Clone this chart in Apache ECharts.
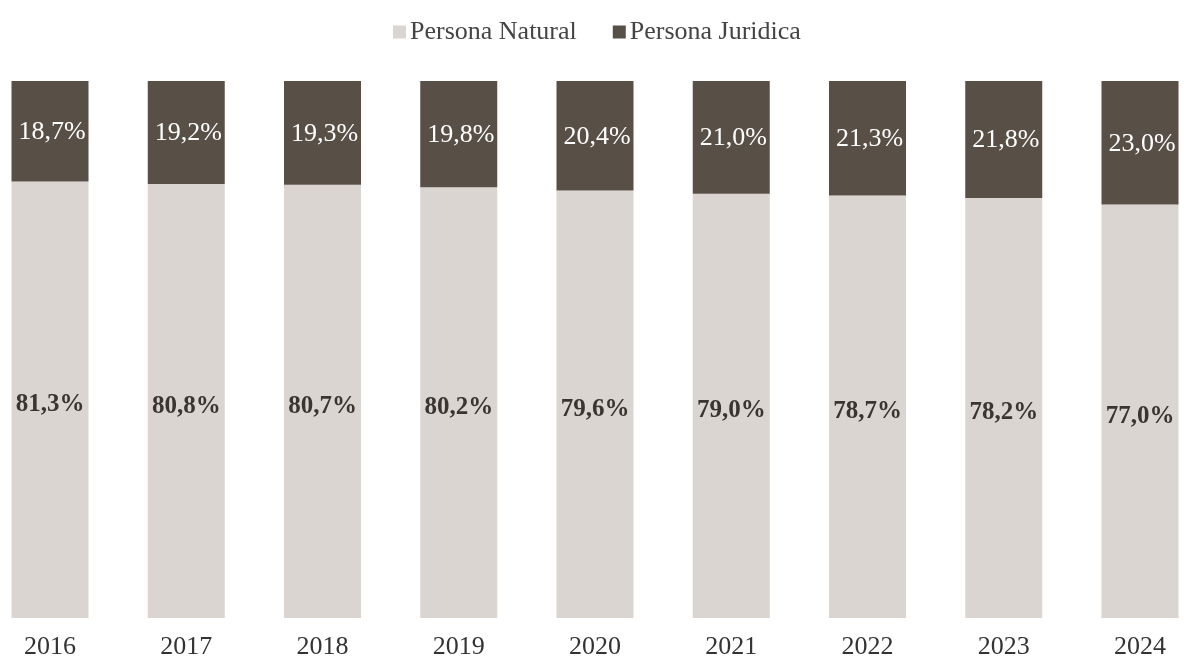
<!DOCTYPE html>
<html><head><meta charset="utf-8">
<script src="https://cdn.jsdelivr.net/npm/echarts@6/dist/echarts.min.js"></script>
<style>html,body{margin:0;padding:0;background:#fff}#c{width:1184px;height:664px}</style>
</head><body><div id="c"></div>
<script>
const years = ['2016','2017','2018','2019','2020','2021','2022','2023','2024'];
const natural = [81.3, 80.8, 80.7, 80.2, 79.6, 79.0, 78.7, 78.2, 77.0];
const juridica = [18.7, 19.2, 19.3, 19.8, 20.4, 21.0, 21.3, 21.8, 23.0];
const fmt = v => v.toFixed(1).replace('.', ',') + '%';
const chart = echarts.init(document.getElementById('c'));
chart.setOption({
  backgroundColor: '#fff',
  textStyle: { fontFamily: 'Liberation Serif' },
  legend: {
    top: 14, left: 388, itemWidth: 13, itemHeight: 13, itemGap: 36,
    icon: 'rect',
    textStyle: { fontFamily: 'Liberation Serif', fontSize: 26, color: '#444', padding: [0, 0, 0, -1] },
    data: ['Persona Natural', 'Persona Juridica']
  },
  grid: { left: 50, right: 44, top: 81, bottom: 46 },
  xAxis: {
    type: 'category', data: years, boundaryGap: false,
    axisLine: { show: false }, axisTick: { show: false },
    axisLabel: { fontFamily: 'Liberation Serif', fontSize: 26, color: '#333', margin: 16 }
  },
  yAxis: { type: 'value', min: 0, max: 100, show: false, splitLine: { show: false } },
  series: [
    {
      name: 'Persona Natural', type: 'bar', stack: 's', barWidth: 77,
      data: natural, itemStyle: { color: '#dad5d0' },
      label: { show: true, position: 'inside', offset: [0, 5], formatter: p => fmt(p.value),
        fontFamily: 'Liberation Serif', fontSize: 25, fontWeight: 'bold', color: '#3a3530' }
    },
    {
      name: 'Persona Juridica', type: 'bar', stack: 's', barWidth: 77,
      data: juridica, itemStyle: { color: '#584f46' },
      label: { show: true, position: 'inside', offset: [2, 1], formatter: p => fmt(p.value),
        fontFamily: 'Liberation Serif', fontSize: 26, color: '#fff' }
    }
  ]
});
</script></body></html>
